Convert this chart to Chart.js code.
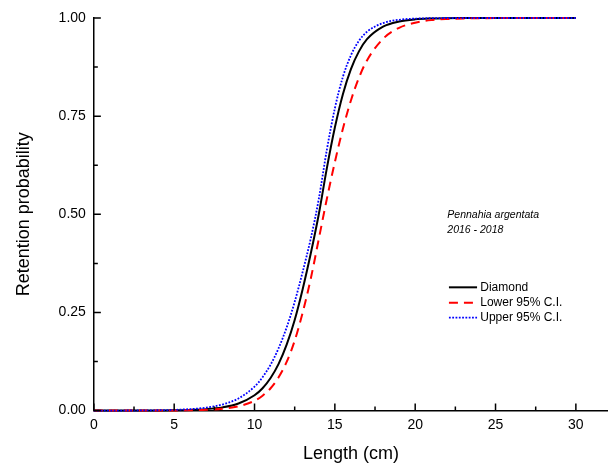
<!DOCTYPE html>
<html>
<head>
<meta charset="utf-8">
<title>Retention probability</title>
<script src="https://cdn.jsdelivr.net/npm/chart.js@4.4.0/dist/chart.umd.min.js"></script>
<style>
  html, body { margin: 0; padding: 0; background: #fff; }
</style>
</head>
<body>
<canvas id="retentionChart" width="608" height="465"></canvas>
<script>

const lengths = [0, 1, 2, 3, 4, 5, 6, 7, 8, 9, 10, 10.5, 11, 11.5, 12, 12.5, 13, 13.5, 14, 14.5,
  15, 15.5, 16, 16.5, 17, 18, 19, 20, 21, 22, 23, 24, 25, 26, 27, 28, 29, 30];

const diamond = [0, 0, 0.0001, 0.0001, 0.0003, 0.0007, 0.0017, 0.0037, 0.0082, 0.018, 0.039, 0.057, 0.083, 0.119, 0.168, 0.231, 0.31, 0.40, 0.50, 0.617,
  0.721, 0.806, 0.87, 0.915, 0.946, 0.978, 0.991, 0.9966, 0.9987, 0.9995, 0.9998, 1, 1, 1, 1, 1, 1, 1];

const lowerCI = [0, 0, 0, 0.0001, 0.0002, 0.0004, 0.0009, 0.002, 0.0047, 0.011, 0.025, 0.038, 0.057, 0.085, 0.124, 0.178, 0.25, 0.336, 0.437, 0.539,
  0.633, 0.718, 0.79, 0.848, 0.892, 0.947, 0.975, 0.988, 0.9946, 0.9975, 0.9989, 0.9995, 0.9998, 1, 1, 1, 1, 1];

const upperCI = [0.0001, 0.0001, 0.0002, 0.0004, 0.0009, 0.0019, 0.0038, 0.0077, 0.0155, 0.031, 0.061, 0.085, 0.117, 0.159, 0.212, 0.277, 0.354, 0.438, 0.539, 0.664,
  0.77, 0.85, 0.905, 0.942, 0.965, 0.987, 0.9955, 0.9984, 0.9995, 1, 1, 1, 1, 1, 1, 1, 1, 1];

const seriesNames = ['Diamond', 'Lower 95% C.I.', 'Upper 95% C.I.'];
const xTicks = [0, 5, 10, 15, 20, 25, 30];
const yTicks = [0, 0.25, 0.5, 0.75, 1];
const noteLines = ['Pennahia argentata', '2016 - 2018'];

const fonte = '"Liberation Sans", Arial, Helvetica, sans-serif';

function toPoints(values) {
  return lengths.map((x, i) => ({ x: x, y: values[i] }));
}

// tick marks pointing into the plot, major + minor
const insideTicks = {
  id: 'insideTicks',
  afterDraw(chart) {
    const ctx = chart.ctx;
    const xs = chart.scales.x;
    const ys = chart.scales.y;
    const area = chart.chartArea;
    ctx.save();
    ctx.strokeStyle = '#000';
    ctx.lineWidth = 1.5;
    ctx.beginPath();
    xTicks.forEach((v, i) => {
      const px = xs.getPixelForValue(v);
      ctx.moveTo(px, area.bottom);
      ctx.lineTo(px, area.bottom - 7);
      if (i < xTicks.length - 1) {
        const pm = xs.getPixelForValue((v + xTicks[i + 1]) / 2);
        ctx.moveTo(pm, area.bottom);
        ctx.lineTo(pm, area.bottom - 4);
      }
    });
    yTicks.forEach((v, i) => {
      const py = ys.getPixelForValue(v);
      ctx.moveTo(area.left, py);
      ctx.lineTo(area.left + 7, py);
      if (i < yTicks.length - 1) {
        const pm = ys.getPixelForValue((v + yTicks[i + 1]) / 2);
        ctx.moveTo(area.left, pm);
        ctx.lineTo(area.left + 4, pm);
      }
    });
    ctx.stroke();
    ctx.restore();
  }
};

// species note and the legend box inside the plot
const noteAndLegend = {
  id: 'noteAndLegend',
  afterDraw(chart) {
    const ctx = chart.ctx;
    const xs = chart.scales.x;
    const ys = chart.scales.y;
    ctx.save();
    ctx.fillStyle = '#000';
    ctx.textBaseline = 'middle';
    ctx.textAlign = 'left';
    ctx.font = 'italic 10.5px ' + fonte;
    const nx = xs.getPixelForValue(22);
    ctx.fillText(noteLines[0], nx, ys.getPixelForValue(0.497));
    ctx.fillText(noteLines[1], nx, ys.getPixelForValue(0.460));

    const rowsY = [0.314, 0.275, 0.237];
    const x1 = xs.getPixelForValue(22.1);
    const x2 = xs.getPixelForValue(23.85);
    const xt = xs.getPixelForValue(24.05);
    ctx.font = '12px ' + fonte;
    chart.data.datasets.forEach((ds, i) => {
      const py = ys.getPixelForValue(rowsY[i]);
      ctx.beginPath();
      ctx.strokeStyle = ds.borderColor;
      ctx.lineWidth = ds.borderWidth;
      ctx.setLineDash(ds.borderDash || []);
      ctx.moveTo(x1, py);
      ctx.lineTo(x2, py);
      ctx.stroke();
      ctx.setLineDash([]);
      ctx.fillText(ds.label, xt, py);
    });
    ctx.restore();
  }
};

const ctx = document.getElementById('retentionChart').getContext('2d');
new Chart(ctx, {
  type: 'line',
  data: {
    datasets: [{
      label: seriesNames[0],
      data: toPoints(diamond),
      borderColor: '#000000',
      borderWidth: 2,
      order: 3
    }, {
      label: seriesNames[1],
      data: toPoints(lowerCI),
      borderColor: '#ff0000',
      borderWidth: 2,
      borderDash: [9, 6],
      order: 2
    }, {
      label: seriesNames[2],
      data: toPoints(upperCI),
      borderColor: '#0000ff',
      borderWidth: 1.8,
      borderDash: [1.8, 1.5],
      order: 1
    }]
  },
  options: {
    responsive: false,
    animation: false,
    layout: { padding: { top: 18, left: 0, right: 0, bottom: 0 } },
    elements: {
      point: { radius: 0 },
      line: { cubicInterpolationMode: 'monotone', fill: false }
    },
    datasets: { line: { clip: false } },
    plugins: {
      legend: { display: false },
      tooltip: { enabled: false }
    },
    scales: {
      x: {
        type: 'linear',
        min: 0,
        max: 32,
        afterBuildTicks: function(scale) {
          scale.ticks = xTicks.map(v => ({ value: v }));
        },
        grid: { display: false, drawTicks: false },
        border: { display: true, color: '#000', width: 1.5 },
        ticks: {
          color: '#000',
          font: { size: 14, family: fonte },
          padding: 6,
          maxRotation: 0,
          autoSkip: false,
          callback: function(v) { return v; }
        },
        title: {
          display: true,
          text: 'Length (cm)',
          color: '#000',
          font: { size: 18, family: fonte },
          padding: { top: 4, bottom: 0 }
        }
      },
      y: {
        type: 'linear',
        min: 0,
        max: 1,
        afterBuildTicks: function(scale) {
          scale.ticks = yTicks.map(v => ({ value: v }));
        },
        grid: { display: false, drawTicks: false },
        border: { display: true, color: '#000', width: 1.5 },
        ticks: {
          color: '#000',
          font: { size: 14, family: fonte },
          padding: 8,
          callback: function(v) { return Number(v).toFixed(2); }
        },
        title: {
          display: true,
          text: 'Retention probability',
          color: '#000',
          font: { size: 18, family: fonte },
          padding: { top: 13, bottom: 16 }
        }
      }
    }
  },
  plugins: [insideTicks, noteAndLegend]
});
</script>
</body>
</html>
